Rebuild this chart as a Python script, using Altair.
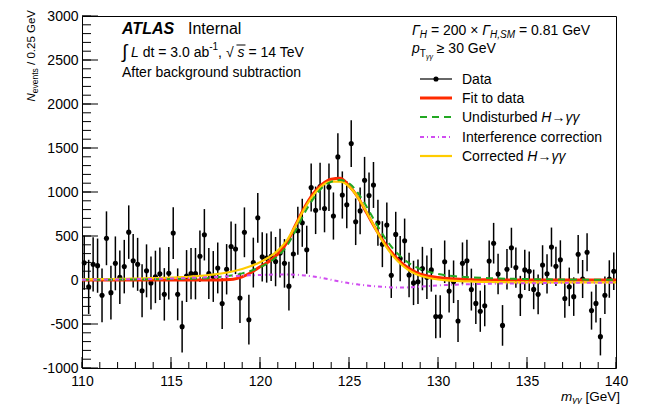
import altair as alt
import pandas as pd

# ---------------- data ----------------
BIN_LO, BIN_W = 110.0, 0.25
counts = [
    196, -78, 178, 163, -174, 474, -144, 189, 30, 152, 544, 218, 178, -122, 104, -33, 35, 70, -163, 76,
    533, -163, -530, 45, 72, 72, 270, 514, 74, 40, 137, -268, 122, 380, 353, -204, 542, -451, 198, 707,
    263, 250, 270, 209, 305, 189, -70, 296, 560, 650, 344, 1050, 792, 1062, 812, 1055, 727, 1399, 966, 855,
    1550, 662, 785, 1134, 960, 1080, 650, 407, 625, 53, 518, 243, 446, 57, -33, -20, 130, 30, 115, -414,
    -414, 207, -126, -20, -466, 189, 218, -109, -266, -355, -292, 215, 418, 68, -516, 122, 366, 141, -181, 115,
    100, -107, -163, 170, 70, 374, 155, 229, -211, -78, -189, 292, 11, 315, -348, -266, -644, -174, 11, 100,
]
# statistical error per 1 GeV slice [110,111), ..., [139,140)
err_per_gev = [308, 306, 304, 301, 298, 295, 292, 289, 286, 283, 280, 276, 273, 270, 268,
               265, 261, 257, 252, 247, 242, 238, 234, 231, 228, 225, 222, 219, 216, 213]

curve_mass = [110 + 0.5 * i for i in range(61)]
fit = [0] * 16 + [2, 8, 35, 85, 150, 210, 295, 420, 625, 825, 985, 1090, 1145, 1155, 1070, 940,
                  760, 580, 420, 288, 185, 115, 65, 42, 28, 18, 11, 6, 3, 2, 1] + [0] * 14
undisturbed = [3, 3, 4, 4, 5, 5, 6, 7, 8, 9, 10, 12, 14, 17, 21, 30,
               40, 55, 75, 105, 145, 198, 272, 385, 560, 760, 925, 1050, 1115, 1135, 1100, 990,
               830, 650, 485, 350, 250, 175, 125, 92, 68, 52, 42, 35, 29, 24, 20, 17,
               14, 12, 10, 9, 8, 7, 6, 5, 5, 4, 4, 3, 3]
interference = [3, 4, 5, 6, 7, 8, 10, 11, 13, 15, 17, 20, 23, 27, 31, 35,
                40, 45, 50, 54, 57, 60, 62, 62, 60, 52, 40, 22, 2, -18, -36, -50,
                -62, -72, -80, -84, -85, -82, -76, -69, -62, -57, -53, -50, -47, -45, -43, -41,
                -40, -38, -37, -36, -35, -34, -33, -32, -31, -31, -30, -30, -29]
corrected = [6, 7, 9, 10, 12, 13, 16, 18, 21, 24, 27, 32, 37, 44, 52, 65,
             80, 100, 125, 159, 202, 258, 334, 447, 620, 812, 965, 1072, 1117, 1117, 1064, 940,
             768, 578, 405, 266, 165, 93, 49, 23, 6, -5, -11, -15, -18, -21, -23, -24,
             -26, -26, -27, -27, -27, -27, -27, -27, -26, -27, -26, -27, -26]

x_major = [110, 115, 120, 125, 130, 135, 140]
x_minor = list(range(110, 141))
y_major = list(range(-1000, 3001, 500))
y_minor = list(range(-1000, 3001, 100))

# ---------------- layout ----------------
W_PLOT, H_PLOT = 534, 352
PAD_L, PAD_T, PAD_R, PAD_B = 74, 8, 22, 36
OX, OY = 8 + PAD_L, 8 + PAD_T
FONT = "Liberation Sans"

def px(x):
    return x - OX

def py(y):
    return y - OY

CW = {' ': 278, ',': 278, '-': 333, '.': 278, '/': 278, '=': 584, '[': 278, ']': 278,
      '×': 584, '≥': 549, 'Γ': 556, 'γ': 500, '→': 1000, '√': 549, '∫': 274,
      'A': 667, 'C': 722, 'D': 722, 'F': 611, 'G': 778, 'H': 722, 'I': 278, 'L': 556,
      'M': 833, 'N': 722, 'S': 667, 'T': 611, 'U': 722, 'V': 667,
      'a': 556, 'b': 556, 'c': 500, 'd': 556, 'e': 556, 'f': 278, 'g': 556, 'h': 556,
      'i': 222, 'k': 500, 'l': 222, 'm': 833, 'n': 556, 'o': 556, 'p': 556, 'r': 333,
      's': 500, 't': 278, 'u': 556, 'v': 500, 'y': 500}
for d in "0123456789":
    CW[d] = 556

def tw(s, size):
    return sum(CW.get(c, 556) for c in s) * size / 1000.0

# ---------------- tables ----------------
mass = [BIN_LO + BIN_W * (i + 0.5) for i in range(len(counts))]
errs = [err_per_gev[int((m - BIN_LO) // 1)] for m in mass]
df_pts = pd.DataFrame({"m": mass, "v": counts, "e": errs})
df_pts["lo"] = df_pts["v"] - df_pts["e"]
df_pts["hi"] = df_pts["v"] + df_pts["e"]
df_cur = pd.DataFrame({"m": curve_mass, "fit": fit, "und": undisturbed,
                       "intf": interference, "cor": corrected})

xs = alt.Scale(domain=[110, 140], nice=False, zero=False)
ys = alt.Scale(domain=[-1000, 3000], nice=False, zero=False)
xaxis = alt.Axis(values=x_major, labelExpr="'' + datum.value", ticks=False, domain=False, grid=False,
                 labelFontSize=14, labelPadding=6, labelFlush=False, labelOverlap=False,
                 labelColor="black", labelFont=FONT, title=None)
yaxis = alt.Axis(values=y_major, labelExpr="'' + datum.value", ticks=False, domain=False, grid=False,
                 labelFontSize=14, labelPadding=4, labelFlush=False, labelOverlap=False,
                 labelColor="black", labelFont=FONT, title=None)

def X(f="m"):
    return alt.X(f + ":Q", scale=xs, axis=xaxis)

def Y(f):
    return alt.Y(f + ":Q", scale=ys, axis=yaxis)

layers = []

# ticks (inside the frame)
for vals, ln in ((y_minor, 9), (y_major, 16)):
    layers.append(alt.Chart(pd.DataFrame({"t": vals})).mark_rule(color="black", strokeWidth=1).encode(
        y=Y("t"), x=alt.value(0), x2=alt.value(ln)))
for vals, ln in ((x_minor, 6), (x_major, 11)):
    layers.append(alt.Chart(pd.DataFrame({"t": vals})).mark_rule(color="black", strokeWidth=1).encode(
        x=X("t"), y=alt.value(H_PLOT), y2=alt.value(H_PLOT - ln)))

# data points
layers.append(alt.Chart(df_pts).mark_rule(color="black", strokeWidth=1.5).encode(
    x=X(), y=Y("lo"), y2="hi:Q"))
layers.append(alt.Chart(df_pts).mark_circle(color="black", size=26, opacity=1).encode(
    x=X(), y=Y("v")))

RED, GREEN, MAG, YEL = "#ff2a00", "#22a822", "#d04cf0", "#ffcc00"
layers.append(alt.Chart(df_cur).mark_line(color=RED, strokeWidth=3, interpolate="monotone").encode(
    x=X(), y=Y("fit")))
layers.append(alt.Chart(df_cur).mark_line(color=YEL, strokeWidth=2.2, interpolate="monotone").encode(
    x=X(), y=Y("cor")))
layers.append(alt.Chart(df_cur).mark_line(color=GREEN, strokeWidth=2, strokeDash=[7, 5],
                                          interpolate="monotone").encode(x=X(), y=Y("und")))
layers.append(alt.Chart(df_cur).mark_line(color=MAG, strokeWidth=2, strokeDash=[4, 3, 1, 3],
                                          interpolate="monotone").encode(x=X(), y=Y("intf")))

ONE = pd.DataFrame({"a": [0]})

def txt(s, x, y, size=14, style="normal", weight="normal", angle=0, align="left"):
    return alt.Chart(pd.DataFrame({"t": [s]})).mark_text(
        align=align, baseline="alphabetic", fontSize=size, fontStyle=style, fontWeight=weight,
        angle=angle, color="black", font=FONT).encode(x=alt.value(px(x)), y=alt.value(py(y)), text="t:N")

def seq(pieces, x0):
    """place rich-text pieces one after another (leading spaces are advanced, not drawn)"""
    out = []
    x = x0
    for s, size, style, y in pieces:
        lead = len(s) - len(s.lstrip(" "))
        x += tw(" " * lead, size)
        body = s.strip(" ")
        out.append(txt(body, x, y, size=size, style=style))
        x += tw(s.lstrip(" "), size)
    return out, x

def hline(x1, x2, y, color, width, dash=None):
    kw = dict(color=color, strokeWidth=width)
    if dash:
        kw["strokeDash"] = dash
    return alt.Chart(ONE).mark_rule(**kw).encode(
        x=alt.value(px(x1)), x2=alt.value(px(x2)), y=alt.value(py(y)))

# ATLAS block
layers.append(txt("ATLAS", 122, 34, size=16, style="italic", weight="bold"))
layers.append(txt("Internal", 188, 34, size=16))
layers.append(txt("∫", 122, 58, size=19))
p, xe = seq([("L", 14, "italic", 57), (" dt = 3.0 ab", 14, "normal", 57), ("-1", 10, "normal", 50),
             (",  √", 14, "normal", 57)], 131)
layers += p
layers.append(hline(xe - 1, xe + 8, 45, "black", 1))
p, xe = seq([("s", 14, "italic", 57), (" = 14 TeV", 14, "normal", 57)], xe)
layers += p
layers.append(txt("After background subtraction", 122, 77))

# right block
p, _ = seq([("Γ", 14, "italic", 35), ("H", 10, "italic", 38), (" = 200 × ", 14, "normal", 35),
            ("Γ", 14, "italic", 35), ("H,SM", 10, "italic", 38), (" = 0.81 GeV", 14, "normal", 35)], 412)
layers += p
p, _ = seq([("p", 14, "italic", 53), ("T", 10, "normal", 57), ("γγ", 7, "italic", 59),
            (" ≥ 30 GeV", 14, "normal", 53)], 412)
layers += p

LX1, LX2, LT = 420, 452, 462
layers.append(hline(LX1, LX2, 79, "black", 1.2))
layers.append(alt.Chart(ONE).mark_circle(color="black", size=26, opacity=1).encode(
    x=alt.value(px((LX1 + LX2) / 2)), y=alt.value(py(79))))
layers.append(txt("Data", LT, 84))
layers.append(hline(LX1, LX2, 98, RED, 3))
layers.append(txt("Fit to data", LT, 103))
layers.append(hline(LX1, LX2, 117, GREEN, 2, [7, 5]))
p, _ = seq([("Undisturbed ", 14, "normal", 122), ("H", 14, "italic", 122), ("→", 14, "normal", 122),
            ("γγ", 14, "italic", 122)], LT)
layers += p
layers.append(hline(LX1, LX2, 137, MAG, 2, [4, 3, 1, 3]))
layers.append(txt("Interference correction", LT, 142))
layers.append(hline(LX1, LX2, 156, YEL, 2.2))
p, _ = seq([("Corrected ", 14, "normal", 161), ("H", 14, "italic", 161), ("→", 14, "normal", 161),
            ("γγ", 14, "italic", 161)], LT)
layers += p

# y-axis title (rotated, right-aligned at top)
YT, YB = 10, 35
s1, s2 = "/ 0.25 GeV", "events"
g1 = tw(" " + s1, 11.5)
layers.append(txt(s1, YB, YT, size=11.5, angle=270, align="right"))
layers.append(txt(s2, YB + 3, YT + g1, size=8.5, angle=270, align="right"))
layers.append(txt("N", YB, YT + g1 + tw(s2, 8.5), size=11.5, style="italic", angle=270,
                  align="right"))

# x-axis title (right-aligned at axis end, below the last label)
XR, XBL, XFS = 620, 401, 13.5
layers.append(txt("[GeV]", XR, XBL, size=XFS, align="right"))
xr2 = XR - tw(" [GeV]", XFS)
layers.append(txt("γγ", xr2, XBL + 2, size=9.5, style="italic", align="right"))
layers.append(txt("m", xr2 - tw("γγ", 9.5), XBL, size=XFS, style="italic", align="right"))

chart = alt.layer(*layers).properties(
    width=W_PLOT, height=H_PLOT,
    autosize=alt.AutoSizeParams(type="none"),
    padding={"left": PAD_L, "top": PAD_T, "right": PAD_R, "bottom": PAD_B},
).configure(font=FONT).configure_view(stroke="black", strokeWidth=1)

chart.save("out.html", embed_options={"renderer": "svg", "actions": False})
